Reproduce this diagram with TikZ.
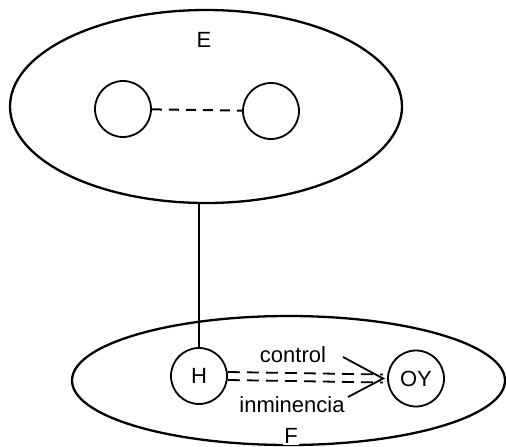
\documentclass[tikz,border=0pt]{standalone}
\usepackage{fontspec}
\setmainfont{Liberation Sans}
\usetikzlibrary{shapes.geometric}

\begin{document}
\begin{tikzpicture}[x=1pt,y=-1pt,line width=1.8pt,font=\fontsize{22}{26}\selectfont,
	unit/.style={circle,draw,inner sep=0pt,minimum size=56pt},
	field/.style={ellipse,draw,line width=2.3pt,inner sep=0pt}]
	
	\useasboundingbox (0,0) rectangle (506,447);
	
	\node[field,minimum width=392pt,minimum height=193pt] (e) at (206,106.5) {};
	\node[field,minimum width=433pt,minimum height=129pt] (f) at (288.5,380.5) {};
	
	\node[unit] (a) at (123,109) {};
	\node[unit] (b) at (271,111) {};
	\node[unit] (h) at (199,376) {H};
	\node[unit] (oy) at (416,378.5) {OY};
	
	\node (le) at (204,40) {E};
	\node[fill=white,inner sep=1pt] (lf) at (291,436) {F};
	\node (lc) at (293,355) {control};
	\node (li) at (292,405) {inminencia};
	
	\draw[line width=2pt,dash pattern=on 10pt off 7pt] (a) -- (b);
	\draw (h) -- (h |- e.south);
	
	\coordinate (tip) at ([xshift=-4pt]oy.west);
	\coordinate (c1) at (343,357);
	\coordinate (c2) at (348,397);
	\draw[dash pattern=on 12pt off 7pt] ([yshift=4pt]h.east) -- ([yshift=4pt]tip);
	\draw[dash pattern=on 12pt off 7pt] ([yshift=-4pt]h.east) -- ([yshift=-4pt]tip);
	\draw (c1) -- (tip) -- (c2);
	
\end{tikzpicture}
\end{document}
